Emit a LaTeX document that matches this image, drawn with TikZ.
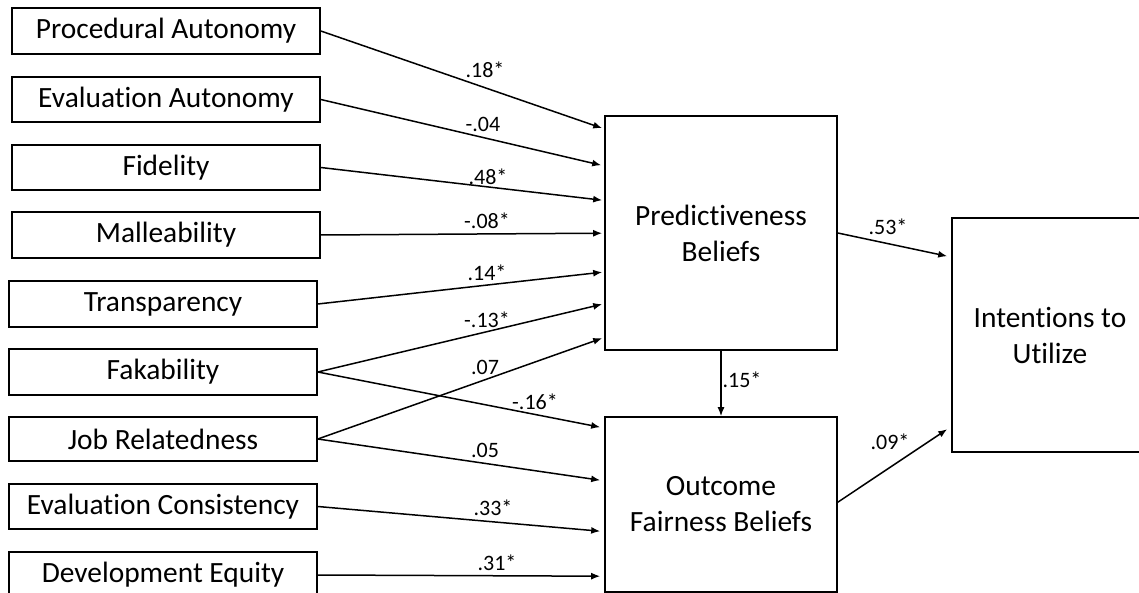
\documentclass[tikz,border=0pt]{standalone}
\usepackage{fontspec}
\setmainfont{Carlito}[Ligatures=NoCommon]
\usetikzlibrary{arrows.meta,calc}
\begin{document}
\begin{tikzpicture}[x=0.5pt,y=-0.5pt,
  box/.style={draw, line width=0.8pt, inner sep=0pt, align=center, font=\fontsize{14.7}{18}\selectfont},
  inbox/.style={box, minimum width=154pt},
  lbl/.style={font=\fontsize{11}{13}\selectfont, inner sep=0pt},
  arr/.style={line width=0.75pt, -{Latex[length=4.5pt,width=3.5pt]}}]
\useasboundingbox (0,0) rectangle (1139,593);
\clip (0,0) rectangle (1139,593);
% left boxes
\node[inbox, minimum height=23pt] (pa) at (166,31) {Procedural Autonomy};
\node[inbox, minimum height=22.5pt] (ea) at (166,99.5) {Evaluation Autonomy};
\node[inbox, minimum height=22.5pt] (fid) at (166,167.5) {Fidelity};
\node[inbox, minimum height=23pt] (mal) at (166,235) {Malleability};
\node[inbox, minimum height=23pt] (tra) at (163,304) {Transparency};
\node[inbox, minimum height=23pt] (fak) at (163,372) {Fakability};
\node[inbox, minimum height=22pt] (jr) at (163,439) {Job Relatedness};
\node[inbox, minimum height=22.5pt] (ec) at (163,506.5) {Evaluation Consistency};
\node[inbox, minimum height=23pt] (de) at (163,575) {Development Equity};
% mediators and outcome
\node[box, minimum width=116pt, minimum height=117pt] (pb) at (721,233) {Predictiveness\\Beliefs};
\node[box, minimum width=116pt, minimum height=87.5pt] (ofb) at (721,504.5) {Outcome\\Fairness Beliefs};
\node[box, minimum width=98pt, minimum height=117pt] (iu) at (1050,335) {Intentions to\\Utilize};
% arrows into PB
\draw[arr] (pa.east) -- ($(pb.north west)+(-2,13)$);
\draw[arr] (ea.east) -- ($(pb.north west)+(-3,50)$);
\draw[arr] (fid.east) -- ($(pb.north west)+(-2,85)$);
\draw[arr] (mal.east) -- ($(pb.north west)+(-2,118)$);
\draw[arr] (tra.east) -- ($(pb.north west)+(-2,157)$);
\draw[arr] (fak.east) -- ($(pb.north west)+(-2,189)$);
\draw[arr] (jr.east) -- ($(pb.north west)+(-2,223)$);
% arrows into OFB
\draw[arr] (fak.east) -- ($(ofb.north west)+(-4,11)$);
\draw[arr] (jr.east) -- ($(ofb.north west)+(-4,64)$);
\draw[arr] (ec.east) -- ($(ofb.north west)+(-4,115)$);
\draw[arr] (de.east) -- ($(ofb.north west)+(-4,160)$);
% mediator paths
\draw[arr] (pb.south) -- (ofb.north);
\draw[arr] (pb.east) -- ($(iu.north west)+(-4,39)$);
\draw[arr] ($(ofb.north east)+(0,86)$) -- ($(iu.north west)+(-4,212)$);
% labels
\node[lbl] (l1) at (485,70) {.18*};
\node[lbl] (l2) at (483,124) {-.04};
\node[lbl] (l3) at (488,177) {.48*};
\node[lbl] (l4) at (487,221) {-.08*};
\node[lbl] (l5) at (487,273) {.14*};
\node[lbl] (l6) at (487,320) {-.13*};
\node[lbl] (l7) at (485,367) {.07};
\node[lbl] (l8) at (535,402) {-.16*};
\node[lbl] (l9) at (485,450) {.05};
\node[lbl] (l10) at (493,508) {.33*};
\node[lbl] (l11) at (497,563) {.31*};
\node[lbl] (l12) at (888,227) {.53*};
\node[lbl] (l13) at (742,380) {.15*};
\node[lbl] (l14) at (890,442) {.09*};
\end{tikzpicture}
\end{document}
